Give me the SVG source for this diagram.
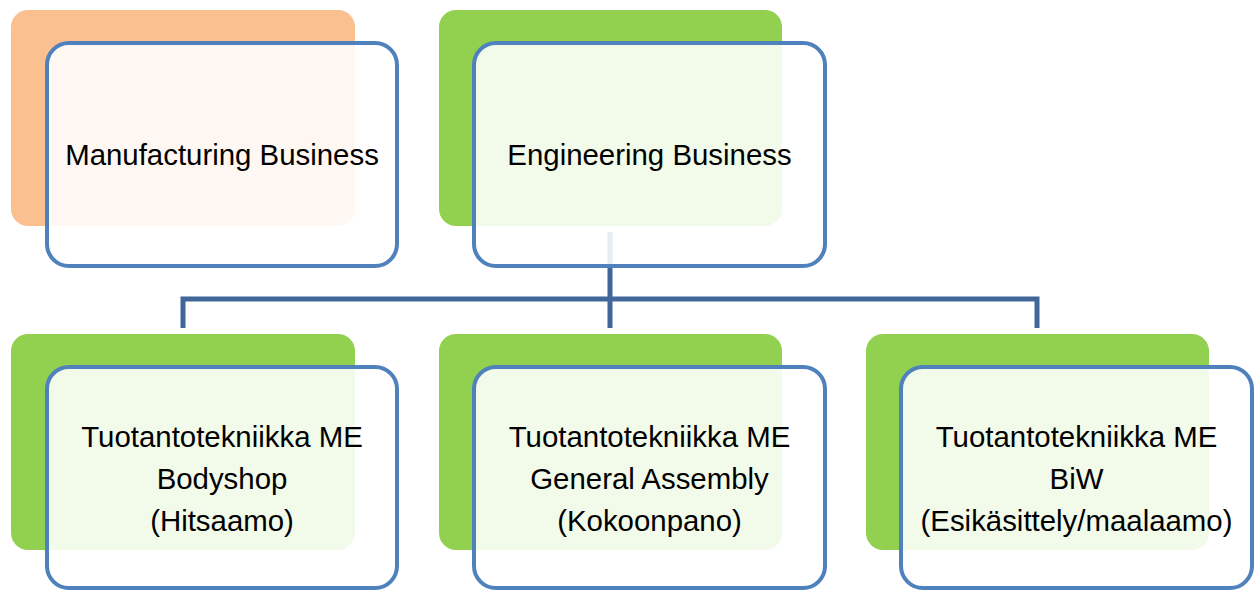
<svg xmlns="http://www.w3.org/2000/svg" width="1259" height="590" viewBox="0 0 1259 590">
<style>
.back-o{fill:#FAC090}
.back-g{fill:#92D050}
.front{fill:#FFFFFF;fill-opacity:0.88;stroke:#4F81BD;stroke-width:4}
.conn{fill:none;stroke:#41679A;stroke-width:5;stroke-linejoin:miter}
text{font-family:"Liberation Sans",Arial,sans-serif;font-size:29.4px;fill:#000;text-anchor:middle}
</style>
<rect width="1259" height="590" fill="#FFFFFF"/>
<g id="manufacturing-back"><rect class="back-o" x="11" y="10" width="344" height="216" rx="17"/></g>
<g id="engineering-back"><rect class="back-g" x="439" y="10" width="343" height="216" rx="17"/></g>
<g id="connectors">
<path class="conn" d="M610,232 V328 M183,328 V299 H1037 V328"/>
</g>
<g id="manufacturing">
<rect class="front" x="47" y="43" width="350" height="223" rx="22"/>
<text x="222" y="165">Manufacturing Business</text>
</g>
<g id="engineering">
<rect class="front" x="474" y="43" width="351" height="223" rx="22"/>
<text x="649.5" y="165">Engineering Business</text>
</g>
<g id="bodyshop">
<rect class="back-g" x="11" y="334" width="344" height="216" rx="17"/>
<rect class="front" x="47" y="367" width="350" height="221" rx="22"/>
<text x="222" y="447">Tuotantotekniikka ME</text>
<text x="222" y="489">Bodyshop</text>
<text x="222" y="531">(Hitsaamo)</text>
</g>
<g id="general-assembly">
<rect class="back-g" x="439" y="334" width="343" height="216" rx="17"/>
<rect class="front" x="474" y="367" width="351" height="221" rx="22"/>
<text x="649.5" y="447">Tuotantotekniikka ME</text>
<text x="649.5" y="489">General Assembly</text>
<text x="649.5" y="531">(Kokoonpano)</text>
</g>
<g id="biw">
<rect class="back-g" x="866" y="334" width="343" height="216" rx="17"/>
<rect class="front" x="901" y="367" width="351" height="221" rx="22"/>
<text x="1076.5" y="447">Tuotantotekniikka ME</text>
<text x="1076.5" y="489">BiW</text>
<text x="1076.5" y="531">(Esikäsittely/maalaamo)</text>
</g>
</svg>
